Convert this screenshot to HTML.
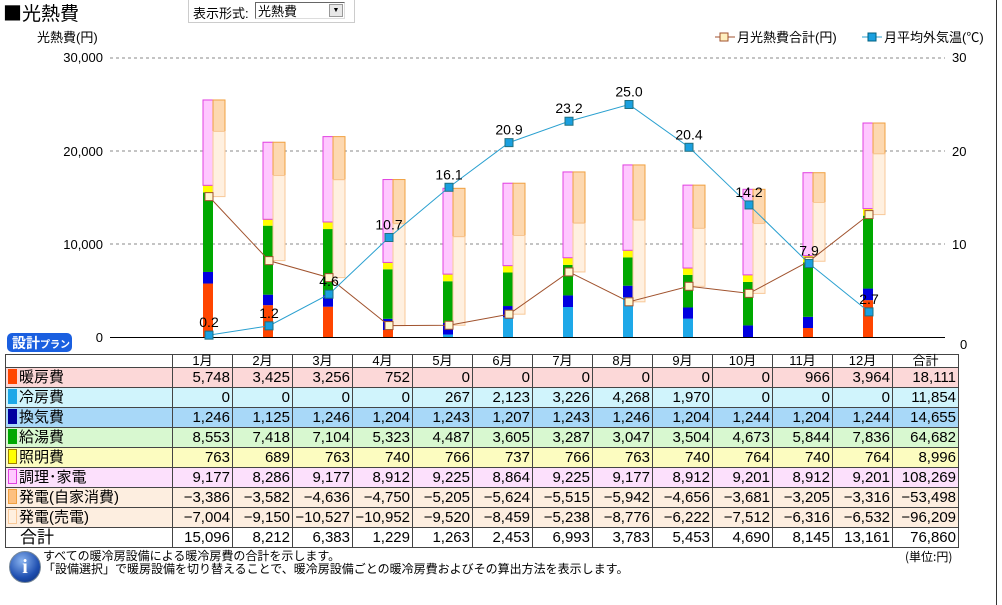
<!DOCTYPE html>
<html><head><meta charset="utf-8">
<style>
body{margin:0;width:1002px;height:605px;background:#fff;overflow:hidden;position:relative;font-family:"Liberation Sans","Noto Sans CJK JP",sans-serif;}
.abs{position:absolute}
table{border-collapse:collapse;position:absolute;left:5px;top:354px;font-size:15px;font-family:"Liberation Sans","Noto Sans CJK JP",sans-serif;}
td{border:1px solid #444;height:19px;padding:0 2px 0 0;text-align:right;line-height:18px;}
td.l{text-align:left;padding-left:2px;}
td.h{text-align:center;background:#fff;padding:0;height:12px;line-height:12px;font-size:13px}
.sw{display:inline-block;width:9px;height:15px;vertical-align:-2px;margin-right:2px;box-sizing:border-box}
</style></head><body>
<div class="abs" style="left:3px;top:2px;font-size:19px;font-family:'Noto Sans CJK JP',sans-serif;line-height:22px">■光熱費</div>
<div class="abs" style="left:188px;top:0;width:167px;height:23px;border:1px solid #ccc;border-top:none;box-sizing:border-box;font-size:13px;">
 <span class="abs" style="left:4px;top:3px">表示形式:</span>
 <div class="abs" style="left:66px;top:2px;width:90px;height:17px;border:1px solid #666;border-color:#666 #ddd #ddd #666;font-size:13px;line-height:17px;padding-left:2px;box-sizing:border-box">光熱費
  <div class="abs" style="right:1px;top:1px;width:14px;height:13px;background:#e8e8e8;border:1px solid #999;box-sizing:border-box;font-size:7px;text-align:center;line-height:12px">▼</div></div>
</div>
<div class="abs" style="left:996px;top:0;width:1px;height:605px;background:#333"></div>
<svg class="abs" style="left:0;top:0" width="1002" height="360" id="ch" font-family="Liberation Sans, Noto Sans CJK JP, sans-serif">
<text x="37" y="42" font-size="13">光熱費(円)</text>
<g font-size="13" text-anchor="end">
<text x="103" y="62">30,000</text><text x="103" y="156">20,000</text><text x="103" y="249">10,000</text><text x="103" y="342">0</text>
</g>
<g font-size="13"><text x="952" y="62">30</text><text x="952" y="156">20</text><text x="952" y="249">10</text><text x="960" y="349">0</text></g>
<g stroke="#888" stroke-dasharray="3,3"><line x1="110" y1="58" x2="945" y2="58"/><line x1="110" y1="151" x2="945" y2="151"/><line x1="110" y1="244" x2="945" y2="244"/></g>
<line x1="110" y1="337.5" x2="945" y2="337.5" stroke="#000"/>
<g font-size="13">
<line x1="715" y1="37" x2="735" y2="37" stroke="#a0522d"/><rect x="720" y="33" width="8" height="8" fill="#fff0c0" stroke="#a0522d"/><text x="737" y="42">月光熱費合計(円)</text>
<line x1="862" y1="37" x2="882" y2="37" stroke="#2aa0d0"/><rect x="868" y="33" width="8" height="8" fill="#1aa0e0" stroke="#006080"/><text x="884" y="42">月平均外気温(℃)</text>
</g>
<g id="bars"></g>
<rect x="7" y="333" width="65" height="19" rx="5" fill="#1a5fe0"/>
<text x="12" y="348" font-size="14" font-weight="bold" fill="#fff">設計<tspan font-size="10">プラン</tspan></text>
</svg>
<table id="tb"></table>
<div class="abs" style="left:9px;top:551px;width:30px;height:30px;border-radius:50%;background:radial-gradient(circle at 40% 30%,#8ab4f0,#1f4fb0 60%,#0a2a70);border:1px solid #789;color:#fff;font:bold 20px 'Liberation Serif',serif;text-align:center;line-height:30px">i</div>
<div class="abs" style="left:43px;top:549px;font-size:12px;line-height:13px;font-family:'Noto Sans CJK JP',sans-serif">すべての暖冷房設備による暖冷房費の合計を示します。<br>「設備選択」で暖房設備を切り替えることで、暖冷房設備ごとの暖冷房費およびその算出方法を表示します。</div>
<div class="abs" style="left:905px;top:548px;font-size:12px;font-family:'Noto Sans CJK JP',sans-serif">(単位:円)</div>
<script>
var D={heat:[5748,3425,3256,752,0,0,0,0,0,0,966,3964],cool:[0,0,0,0,267,2123,3226,4268,1970,0,0,0],vent:[1246,1125,1246,1204,1243,1207,1243,1246,1204,1244,1204,1244],hot:[8553,7418,7104,5323,4487,3605,3287,3047,3504,4673,5844,7836],light:[763,689,763,740,766,737,766,763,740,764,740,764],cook:[9177,8286,9177,8912,9225,8864,9225,9177,8912,9201,8912,9201],self:[-3386,-3582,-4636,-4750,-5205,-5624,-5515,-5942,-4656,-3681,-3205,-3316],sell:[-7004,-9150,-10527,-10952,-9520,-8459,-5238,-8776,-6222,-7512,-6316,-6532],tot:[15096,8212,6383,1229,1263,2453,6993,3783,5453,4690,8145,13161]};
var SUM={heat:18111,cool:11854,vent:14655,hot:64682,light:8996,cook:108269,self:-53498,sell:-96209};
var T=[0.2,1.2,4.6,10.7,16.1,20.9,23.2,25.0,20.4,14.2,7.9,2.7];
var k=279/30000;function Y(v){return 337-v*k}
var s='';var cols=[['heat','#ff4500','#ff4500'],['cool','#1ea8e8','#1ea8e8'],['vent','#0000e0','#0000e0'],['hot','#00a800','#00a800'],['light','#ffff00','#e0c000'],['cook','#ffc8ff','#e040e0']];
var tl='',bl='',mk='',lb='';
for(var i=0;i<12;i++){var x=173+60*i+30;var acc=0;
 for(var c=0;c<cols.length;c++){var cc=cols[c];var v=D[cc[0]][i];if(v>0){s+='<rect x="'+x+'" y="'+Y(acc+v)+'" width="10" height="'+(v*k)+'" fill="'+cc[1]+'" stroke="'+(cc[0]=='cook'?cc[2]:'none')+'" stroke-width="1"/>';}acc+=v;}
 var tp=acc,a=tp+D.self[i];
 s+='<rect x="'+(x+10)+'" y="'+Y(tp)+'" width="12" height="'+(-D.self[i]*k)+'" fill="#fdd8b0" stroke="#f0a040"/>';
 s+='<rect x="'+(x+10)+'" y="'+Y(a)+'" width="12" height="'+(-D.sell[i]*k)+'" fill="#fff0e0" stroke="#f8c898"/>';
 var cx=x+6;tl+=(i?'L':'M')+cx+' '+Y(D.tot[i]);bl+=(i?'L':'M')+cx+' '+(337-T[i]*9.3);
 mk+='<rect x="'+(cx-4)+'" y="'+(Y(D.tot[i])-4)+'" width="8" height="8" fill="#fff8d0" stroke="#a0522d"/>';
 mk+='<rect x="'+(cx-4)+'" y="'+(337-T[i]*9.3-4)+'" width="8" height="8" fill="#1aa0e0" stroke="#207080"/>';
 lb+='<text x="'+cx+'" y="'+(337-T[i]*9.3-8)+'" font-size="14" text-anchor="middle">'+T[i].toFixed(1)+'</text>';}
s+='<path d="'+tl+'" fill="none" stroke="#a0522d"/><path d="'+bl+'" fill="none" stroke="#2aa0d0"/>'+mk+lb;
document.getElementById('bars').innerHTML=s;
var rows=[['暖房費','heat','#fcd8d8','#ff4500','#ff4500'],['冷房費','cool','#d0f4fc','#1ea8e8','#1ea8e8'],['換気費','vent','#a8d8f8','#0000a0','#0000a0'],['給湯費','hot','#d8f8d0','#00a800','#00a800'],['照明費','light','#fcfcc0','#ffff00','#a08000'],['調理･家電','cook','#fce0fc','#ffc8ff','#e040e0'],['発電(自家消費)','self','#fdeee0','#fdc080','#f0a040'],['発電(売電)','sell','#fdeee0','#fff0e0','#f8c898']];
function f(n){return n.toLocaleString('en-US').replace('-','−')}
var h='<tr><td class="h" style="width:166px"></td>';for(var i=1;i<=12;i++)h+='<td class="h" style="width:59px">'+i+'月</td>';h+='<td class="h" style="width:65px">合計</td></tr>';
rows.forEach(function(r){h+='<tr style="background:'+r[2]+'"><td class="l"><span class="sw" style="background:'+r[3]+';border:1px solid '+r[4]+'"></span>'+r[0]+'</td>';for(var i=0;i<12;i++){h+='<td>'+f(D[r[1]][i])+'</td>'}h+='<td>'+f(SUM[r[1]])+'</td></tr>'});
h+='<tr><td class="l" style="font-size:17px;padding-left:14px">合計</td>';for(var i=0;i<12;i++){h+='<td>'+f(D.tot[i])+'</td>'}h+='<td>'+f(76860)+'</td></tr>';
document.getElementById('tb').innerHTML=h;
</script>
</body></html>
